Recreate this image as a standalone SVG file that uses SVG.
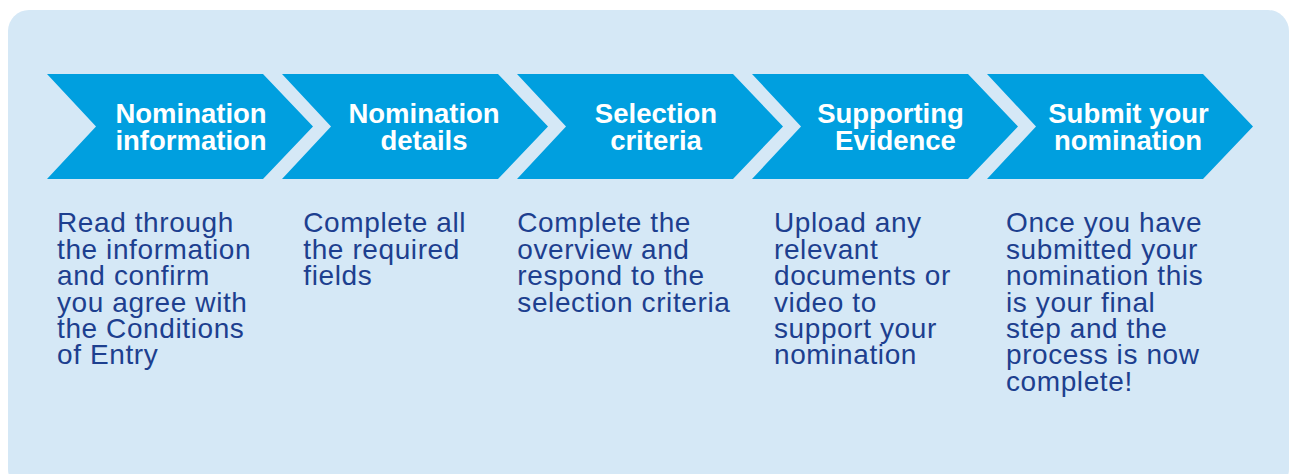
<svg xmlns="http://www.w3.org/2000/svg" width="1292" height="474" viewBox="0 0 1292 474">
<defs>
<style>
.bg{fill:#d5e8f6}
.chev{fill:#009fdf}
.h{font-family:"Liberation Sans",Arial,Helvetica,sans-serif;font-weight:bold;font-size:27.5px;fill:#ffffff;text-anchor:middle}
.b{font-family:"Liberation Sans",Arial,Helvetica,sans-serif;font-size:28px;letter-spacing:0.6px;fill:#1d3f8f}
</style>
<path id="chevShape" d="M0,74 L216,74 L266,126.5 L216,179 L0,179 L49,126.5 Z"/>
</defs>
<rect class="bg" x="8" y="10" width="1281" height="480" rx="21" ry="21"/>
<g id="connectors"></g>
<g id="step1">
<use href="#chevShape" class="chev" transform="translate(47,0)"/>
<text class="h" x="191" y="123">Nomination</text>
<text class="h" x="191" y="150">information</text>
<text class="b"><tspan x="57" y="232.3">Read through</tspan><tspan x="57" y="258.7">the information</tspan><tspan x="57" y="285.1">and confirm</tspan><tspan x="57" y="311.5">you agree with</tspan><tspan x="57" y="337.9">the Conditions</tspan><tspan x="57" y="364.3">of Entry</tspan></text>
</g>
<g id="step2">
<use href="#chevShape" class="chev" transform="translate(282,0)"/>
<text class="h" x="424" y="123">Nomination</text>
<text class="h" x="424" y="150">details</text>
<text class="b"><tspan x="303.3" y="232.3">Complete all</tspan><tspan x="303.3" y="258.7">the required</tspan><tspan x="303.3" y="285.1">fields</tspan></text>
</g>
<g id="step3">
<use href="#chevShape" class="chev" transform="translate(517,0)"/>
<text class="h" x="656" y="123">Selection</text>
<text class="h" x="656" y="150">criteria</text>
<text class="b"><tspan x="517.3" y="232.3">Complete the</tspan><tspan x="517.3" y="258.7">overview and</tspan><tspan x="517.3" y="285.1">respond to the</tspan><tspan x="517.3" y="311.5">selection criteria</tspan></text>
</g>
<g id="step4">
<use href="#chevShape" class="chev" transform="translate(752,0)"/>
<text class="h" x="890.5" y="123">Supporting</text>
<text class="h" x="895.5" y="150">Evidence</text>
<text class="b"><tspan x="774" y="232.3">Upload any</tspan><tspan x="774" y="258.7">relevant</tspan><tspan x="774" y="285.1">documents or</tspan><tspan x="774" y="311.5">video to</tspan><tspan x="774" y="337.9">support your</tspan><tspan x="774" y="364.3">nomination</tspan></text>
</g>
<g id="step5">
<use href="#chevShape" class="chev" transform="translate(987,0)"/>
<text class="h" x="1128.5" y="123">Submit your</text>
<text class="h" x="1128" y="150">nomination</text>
<text class="b"><tspan x="1006" y="232.3">Once you have</tspan><tspan x="1006" y="258.7">submitted your</tspan><tspan x="1006" y="285.1">nomination this</tspan><tspan x="1006" y="311.5">is your final</tspan><tspan x="1006" y="337.9">step and the</tspan><tspan x="1006" y="364.3">process is now</tspan><tspan x="1006" y="390.7">complete!</tspan></text>
</g>
</svg>
